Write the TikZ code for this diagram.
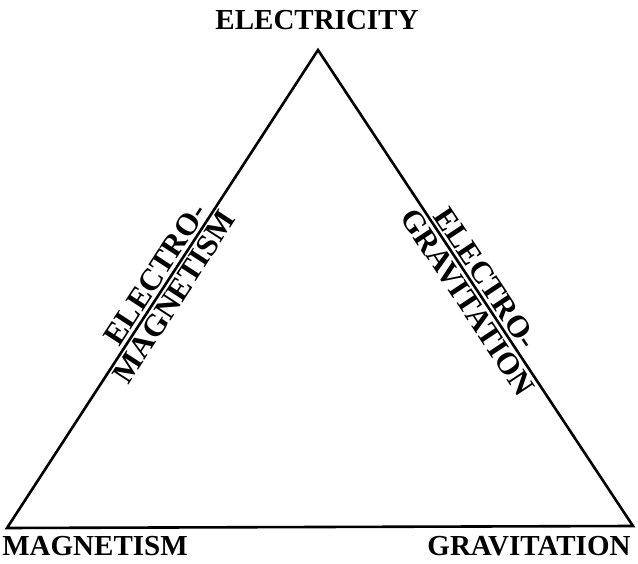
\documentclass[tikz,border=0pt]{standalone}
\usepackage{fontspec}
\setmainfont{Liberation Serif}
\begin{document}
\begin{tikzpicture}[x=1pt,y=1pt,
  edge/.style={line width=2.6pt, line join=miter},
  vlabel/.style={font=\bfseries\fontsize{29}{29}\selectfont, inner sep=0pt},
  slabel/.style={font=\bfseries\fontsize{31}{31}\selectfont, inner sep=2.5pt, sloped}]
\useasboundingbox (0,0) rectangle (638,563);
\coordinate (T) at (318,513);
\coordinate (BL) at (7,35);
\coordinate (BR) at (633,37);
\node[vlabel] (elec) at (317,543) {ELECTRICITY};
\node[vlabel] (magn) at (95,17) {MAGNETISM};
\node[vlabel] (grav) at (529,17) {GRAVITATION};
\draw[edge] (BL) -- node[slabel, above, pos=0.515] (em1) {ELECTRO-}
                    node[slabel, below, pos=0.50] (em2) {MAGNETISM} (T)
  -- node[slabel, above, pos=0.496] (eg1) {ELECTRO-}
     node[slabel, below, pos=0.513] (eg2) {GRAVITATION} (BR) -- cycle;
\end{tikzpicture}
\end{document}
